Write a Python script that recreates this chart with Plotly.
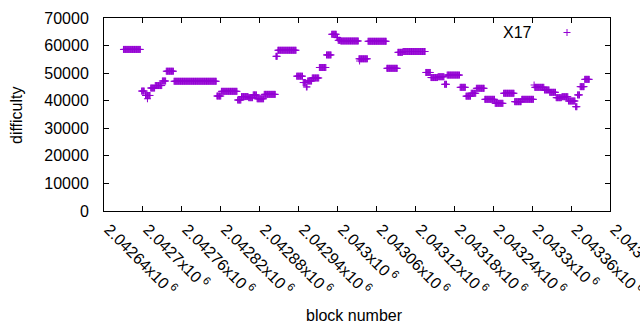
import plotly.graph_objects as go

PURPLE = "#9400D3"

# Runs of constant difficulty: first block, last block, difficulty
run_start = [2042670, 2042698, 2042704, 2042707, 2042712, 2042719, 2042730, 2042736, 2042748, 2042814,
             2042821, 2042846, 2042852, 2042863, 2042870, 2042876, 2042887, 2042905, 2042908, 2042937,
             2042947, 2042952, 2042954, 2042961, 2042972, 2042983, 2042991, 2042999, 2043001, 2043005,
             2043033, 2043034, 2043047, 2043076, 2043093, 2043101, 2043136, 2043144, 2043155, 2043165,
             2043169, 2043189, 2043198, 2043206, 2043214, 2043227, 2043243, 2043256, 2043273, 2043284,
             2043303, 2043304, 2043319, 2043327, 2043337, 2043346, 2043356, 2043367, 2043370, 2043374,
             2043381]
run_end = [2042696, 2042702, 2042711, 2042707, 2042718, 2042729, 2042735, 2042747, 2042813, 2042820,
           2042845, 2042851, 2042862, 2042869, 2042875, 2042886, 2042904, 2042907, 2042936, 2042946,
           2042951, 2042953, 2042960, 2042971, 2042982, 2042990, 2042998, 2043000, 2043004, 2043032,
           2043046, 2043034, 2043075, 2043092, 2043100, 2043135, 2043143, 2043154, 2043164, 2043168,
           2043188, 2043197, 2043205, 2043213, 2043226, 2043242, 2043255, 2043272, 2043283, 2043302,
           2043303, 2043318, 2043326, 2043336, 2043345, 2043355, 2043366, 2043369, 2043373, 2043380,
           2043388]
run_difficulty = [58600, 43500, 41900, 40700, 44600, 45500, 47150, 50700, 47050, 41700,
                  43400, 40250, 41500, 41100, 42100, 40700, 42300, 56100, 58300, 48900,
                  46600, 45000, 47150, 48250, 52050, 56600, 64100, 62900, 61900, 61660,
                  55200, 54400, 61560, 51750, 57550, 57850, 50240, 48400, 48700, 45950,
                  49300, 44850, 41650, 42700, 44500, 40500, 39050, 42700, 39650, 40500,
                  45700, 44850, 43900, 43050, 41100, 41460, 39900, 37830, 42100, 45100,
                  47750]

x_tick_values = [2042640, 2042700, 2042760, 2042820, 2042880, 2042940, 2043000,
                 2043060, 2043120, 2043180, 2043240, 2043300, 2043360, 2043420]
x_tick_labels = ["2.04264", "2.0427", "2.04276", "2.04282", "2.04288", "2.04294", "2.043",
                 "2.04306", "2.04312", "2.04318", "2.04324", "2.0433", "2.04336", "2.04342"]
y_tick_values = [0, 10000, 20000, 30000, 40000, 50000, 60000, 70000]

blocks, diffs = [], []
for s, e, d in zip(run_start, run_end, run_difficulty):
    for b in range(s, e + 1):
        blocks.append(b)
        diffs.append(d)

FONT = dict(family="Liberation Sans, Arial, sans-serif", size=16, color="#000000")

fig = go.Figure()
fig.add_trace(go.Scatter(
    x=blocks, y=diffs, mode="markers", name="X17", showlegend=False,
    marker=dict(symbol="cross-thin", size=5, color=PURPLE,
                line=dict(width=1, color=PURPLE)),
))

L, R, T, B = 104, 30, 18, 119
W, H = 640, 330
pw, ph = W - L - R, H - T - B

def px(xp):
    return (xp - L) / pw

def py(yp):
    return (H - B - yp) / ph

axis_common = dict(showline=True, linecolor="black", linewidth=1, mirror="allticks",
                   ticks="inside", ticklen=5, tickcolor="black", showgrid=False,
                   zeroline=False, tickfont=FONT, automargin=False, ticklabeloverflow="allow")

fig.update_layout(
    width=W, height=H,
    margin=dict(l=L, r=R, t=T, b=B),
    paper_bgcolor="white", plot_bgcolor="white",
    xaxis=dict(range=[x_tick_values[0], x_tick_values[-1]], tickvals=x_tick_values,
               ticktext=[t + "x10<sup> 6</sup>" for t in x_tick_labels], tickangle=45,
               ticklabelstandoff=2, ticklabelshift=5, **axis_common),
    yaxis=dict(range=[0, 70000], tickvals=y_tick_values,
               ticktext=[str(v) for v in y_tick_values], ticklabelstandoff=11,
               **axis_common),
    annotations=[
        dict(text="difficulty", xref="paper", yref="paper", x=px(16), y=py(115),
             textangle=-90, showarrow=False, font=FONT, xanchor="center", yanchor="middle"),
        dict(text="block number", xref="paper", yref="paper", x=px(354), y=py(315),
             showarrow=False, font=FONT, xanchor="center", yanchor="middle"),
        dict(text="X17", xref="paper", yref="paper", x=px(534), y=py(32),
             showarrow=False, font=FONT, xanchor="right", yanchor="middle"),
    ],
    shapes=[
        dict(type="line", xref="paper", yref="paper", x0=px(563.5), x1=px(570.5),
             y0=py(32.5), y1=py(32.5), line=dict(color=PURPLE, width=1)),
        dict(type="line", xref="paper", yref="paper", x0=px(567), x1=px(567),
             y0=py(29), y1=py(36), line=dict(color=PURPLE, width=1)),
    ],
)

fig.write_html("out.html", config={"displayModeBar": False},
               post_script="document.body.style.margin='0';document.body.style.overflow='hidden';")
